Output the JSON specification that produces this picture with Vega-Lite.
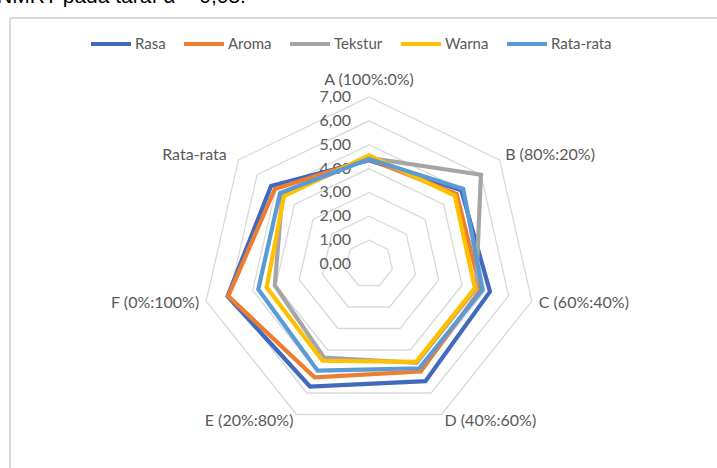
{
  "$schema": "https://vega.github.io/schema/vega-lite/v6.json",
  "width": 707,
  "height": 450,
  "autosize": {"type": "none"},
  "padding": {"left": 10, "top": 18, "right": 0, "bottom": 0},
  "background": "white",
  "config": {"view": {"stroke": null}, "font": "Lato"},
  "title": {"text": "NMRT pada taraf α = 0,05.", "anchor": "start", "frame": "group", "fontSize": 21, "fontWeight": "normal", "font": "Liberation Sans", "color": "black", "offset": 0, "baseline": "alphabetic", "dx": -13, "dy": 6},
  "datasets": {
    "series": [
      {"seri": "Rasa", "kategori": "A (100%:0%)", "nilai": 4.35},
      {"seri": "Rasa", "kategori": "B (80%:20%)", "nilai": 4.95},
      {"seri": "Rasa", "kategori": "C (60%:40%)", "nilai": 5.2},
      {"seri": "Rasa", "kategori": "D (40%:60%)", "nilai": 5.45},
      {"seri": "Rasa", "kategori": "E (20%:80%)", "nilai": 5.7},
      {"seri": "Rasa", "kategori": "F (0%:100%)", "nilai": 6.08},
      {"seri": "Rasa", "kategori": "Rata-rata", "nilai": 5.25},
      {"seri": "Aroma", "kategori": "A (100%:0%)", "nilai": 4.4},
      {"seri": "Aroma", "kategori": "B (80%:20%)", "nilai": 4.7},
      {"seri": "Aroma", "kategori": "C (60%:40%)", "nilai": 4.8},
      {"seri": "Aroma", "kategori": "D (40%:60%)", "nilai": 5.0},
      {"seri": "Aroma", "kategori": "E (20%:80%)", "nilai": 5.27},
      {"seri": "Aroma", "kategori": "F (0%:100%)", "nilai": 6.05},
      {"seri": "Aroma", "kategori": "Rata-rata", "nilai": 5.04},
      {"seri": "Tekstur", "kategori": "A (100%:0%)", "nilai": 4.45},
      {"seri": "Tekstur", "kategori": "B (80%:20%)", "nilai": 6.0},
      {"seri": "Tekstur", "kategori": "C (60%:40%)", "nilai": 4.6},
      {"seri": "Tekstur", "kategori": "D (40%:60%)", "nilai": 4.6},
      {"seri": "Tekstur", "kategori": "E (20%:80%)", "nilai": 4.35},
      {"seri": "Tekstur", "kategori": "F (0%:100%)", "nilai": 4.05},
      {"seri": "Tekstur", "kategori": "Rata-rata", "nilai": 4.65},
      {"seri": "Warna", "kategori": "A (100%:0%)", "nilai": 4.55},
      {"seri": "Warna", "kategori": "B (80%:20%)", "nilai": 4.6},
      {"seri": "Warna", "kategori": "C (60%:40%)", "nilai": 4.55},
      {"seri": "Warna", "kategori": "D (40%:60%)", "nilai": 4.55},
      {"seri": "Warna", "kategori": "E (20%:80%)", "nilai": 4.5},
      {"seri": "Warna", "kategori": "F (0%:100%)", "nilai": 4.4},
      {"seri": "Warna", "kategori": "Rata-rata", "nilai": 4.56},
      {"seri": "Rata-rata", "kategori": "A (100%:0%)", "nilai": 4.4},
      {"seri": "Rata-rata", "kategori": "B (80%:20%)", "nilai": 5.05},
      {"seri": "Rata-rata", "kategori": "C (60%:40%)", "nilai": 4.88},
      {"seri": "Rata-rata", "kategori": "D (40%:60%)", "nilai": 4.85},
      {"seri": "Rata-rata", "kategori": "E (20%:80%)", "nilai": 4.96},
      {"seri": "Rata-rata", "kategori": "F (0%:100%)", "nilai": 4.76},
      {"seri": "Rata-rata", "kategori": "Rata-rata", "nilai": 4.77}
    ],
    "levels": [
      {"level": 0, "label": "0,00"},
      {"level": 1, "label": "1,00"},
      {"level": 2, "label": "2,00"},
      {"level": 3, "label": "3,00"},
      {"level": 4, "label": "4,00"},
      {"level": 5, "label": "5,00"},
      {"level": 6, "label": "6,00"},
      {"level": 7, "label": "7,00"}
    ]
  },
  "layer": [
    {
      "data": {"name": "levels"},
      "mark": {"type": "rule", "stroke": "#d9d9d9", "strokeWidth": 1},
      "encoding": {"x": {"datum": -15.046, "type": "quantitative", "scale": {"domain": [-15.046, 14.585], "nice": false, "zero": false}, "axis": null}}
    },
    {
      "data": {"name": "levels"},
      "mark": {"type": "rule", "stroke": "#d9d9d9", "strokeWidth": 1},
      "encoding": {"y": {"datum": 10.31, "type": "quantitative", "scale": {"domain": [-8.55, 10.31], "nice": false, "zero": false}, "axis": null}}
    },
    {
      "data": {"name": "levels"},
      "transform": [
        {"filter": "datum.level > 0"},
        {"calculate": "['A (100%:0%)','B (80%:20%)','C (60%:40%)','D (40%:60%)','E (20%:80%)','F (0%:100%)','Rata-rata']", "as": "kats"},
        {"flatten": ["kats"], "as": ["kategori"]},
        {"calculate": "indexof(['A (100%:0%)','B (80%:20%)','C (60%:40%)','D (40%:60%)','E (20%:80%)','F (0%:100%)','Rata-rata'], datum.kategori)", "as": "idx"},
        {"calculate": "datum.level*sin(datum.idx*2*PI/7)", "as": "px"},
        {"calculate": "datum.level*cos(datum.idx*2*PI/7)", "as": "py"}
      ],
      "mark": {"type": "line", "interpolate": "linear-closed", "stroke": "#d9d9d9", "strokeWidth": 1.3},
      "encoding": {
        "x": {"field": "px", "type": "quantitative", "scale": {"domain": [-15.046, 14.585], "nice": false, "zero": false}, "axis": null},
        "y": {"field": "py", "type": "quantitative", "scale": {"domain": [-8.55, 10.31], "nice": false, "zero": false}, "axis": null},
        "detail": {"field": "level"},
        "order": {"field": "idx"}
      }
    },
    {
      "data": {"name": "levels"},
      "mark": {"type": "text", "align": "right", "baseline": "middle", "dx": -18, "fontSize": 16, "color": "#595959"},
      "encoding": {
        "x": {"datum": 0, "type": "quantitative"},
        "y": {"field": "level", "type": "quantitative"},
        "text": {"field": "label"}
      }
    },
    {
      "data": {"name": "series"},
      "transform": [
        {"filter": "datum.seri === 'Rasa'"},
        {"calculate": "indexof(['A (100%:0%)','B (80%:20%)','C (60%:40%)','D (40%:60%)','E (20%:80%)','F (0%:100%)','Rata-rata'], datum.kategori)", "as": "idx"},
        {"calculate": "7.3*sin(datum.idx*2*PI/7)", "as": "lx"},
        {"calculate": "7.3*cos(datum.idx*2*PI/7)", "as": "ly"}
      ],
      "layer": [
        {
          "transform": [{"filter": "datum.idx === 0"}],
          "mark": {"type": "text", "align": "center", "baseline": "middle", "dy": -10, "fontSize": 16, "color": "#595959"},
          "encoding": {"x": {"field": "lx", "type": "quantitative"}, "y": {"field": "ly", "type": "quantitative"}, "text": {"field": "kategori"}}
        },
        {
          "transform": [{"filter": "datum.idx >= 1 && datum.idx <= 3"}],
          "mark": {"type": "text", "align": "left", "baseline": "middle", "fontSize": 16, "color": "#595959"},
          "encoding": {"x": {"field": "lx", "type": "quantitative"}, "y": {"field": "ly", "type": "quantitative"}, "text": {"field": "kategori"}}
        },
        {
          "transform": [{"filter": "datum.idx >= 4 && datum.idx <= 5"}],
          "mark": {"type": "text", "align": "right", "baseline": "middle", "fontSize": 16, "color": "#595959"},
          "encoding": {"x": {"field": "lx", "type": "quantitative"}, "y": {"field": "ly", "type": "quantitative"}, "text": {"field": "kategori"}}
        },
        {
          "transform": [{"filter": "datum.idx === 6"}],
          "mark": {"type": "text", "align": "right", "baseline": "middle", "dx": -6, "fontSize": 16, "color": "#595959"},
          "encoding": {"x": {"field": "lx", "type": "quantitative"}, "y": {"field": "ly", "type": "quantitative"}, "text": {"field": "kategori"}}
        }
      ]
    },
    {
      "data": {"name": "series"},
      "transform": [
        {"calculate": "indexof(['A (100%:0%)','B (80%:20%)','C (60%:40%)','D (40%:60%)','E (20%:80%)','F (0%:100%)','Rata-rata'], datum.kategori)", "as": "idx"},
        {"calculate": "datum.nilai*sin(datum.idx*2*PI/7)", "as": "px"},
        {"calculate": "datum.nilai*cos(datum.idx*2*PI/7)", "as": "py"}
      ],
      "encoding": {
        "x": {"field": "px", "type": "quantitative"},
        "y": {"field": "py", "type": "quantitative"},
        "order": {"field": "idx"},
        "color": {
          "field": "seri",
          "type": "nominal",
          "scale": {"domain": ["Rasa", "Aroma", "Tekstur", "Warna", "Rata-rata"], "range": ["#4169bd", "#ed7d31", "#a5a5a5", "#ffc000", "#5b9bd5"]},
          "legend": {"orient": "none", "legendX": 79, "legendY": 4, "direction": "horizontal", "title": null, "symbolType": "stroke", "symbolSize": 1600, "symbolStrokeWidth": 4, "labelFontSize": 15, "labelColor": "#595959", "labelFont": "Lato", "columnPadding": 10, "labelOffset": 2}
        }
      },
      "layer": [
        {"transform": [{"filter": "datum.seri === 'Rasa'"}], "mark": {"type": "line", "interpolate": "linear-closed", "strokeWidth": 4.2}},
        {"transform": [{"filter": "datum.seri === 'Aroma'"}], "mark": {"type": "line", "interpolate": "linear-closed", "strokeWidth": 4.2}},
        {"transform": [{"filter": "datum.seri === 'Tekstur'"}], "mark": {"type": "line", "interpolate": "linear-closed", "strokeWidth": 4.2}},
        {"transform": [{"filter": "datum.seri === 'Warna'"}], "mark": {"type": "line", "interpolate": "linear-closed", "strokeWidth": 4.2}},
        {"transform": [{"filter": "datum.seri === 'Rata-rata'"}], "mark": {"type": "line", "interpolate": "linear-closed", "strokeWidth": 4.2}}
      ]
    }
  ]
}
